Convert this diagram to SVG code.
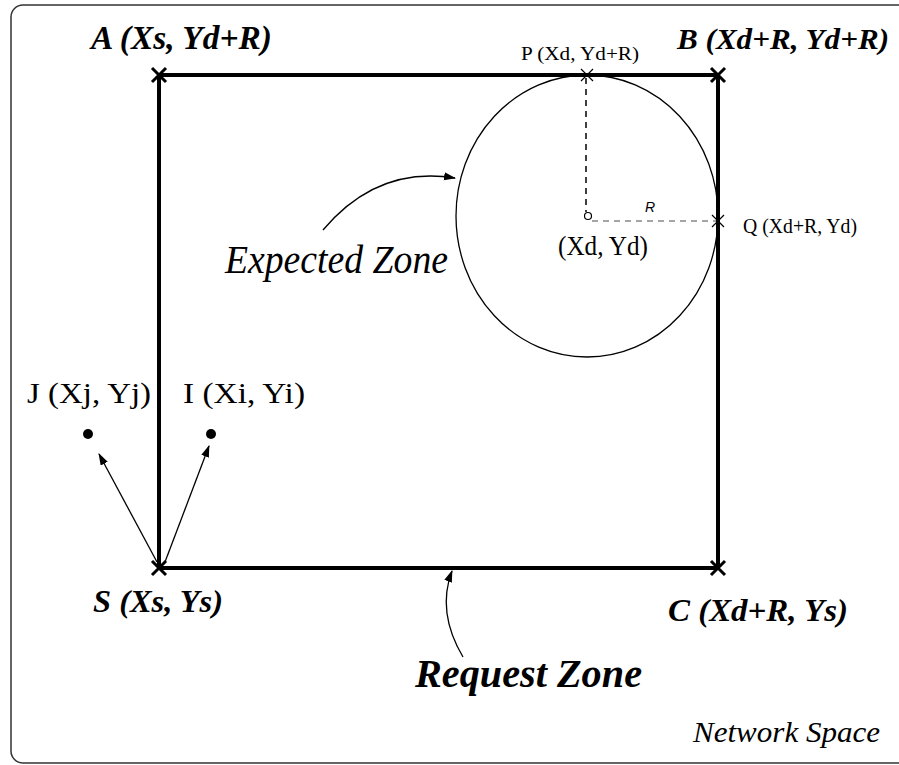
<svg xmlns="http://www.w3.org/2000/svg" width="899" height="765" viewBox="0 0 899 765">
<style>
.bi{font-family:"Liberation Serif",serif;font-weight:bold;font-style:italic;fill:#000}
.rg{font-family:"Liberation Serif",serif;fill:#000}
.it{font-family:"Liberation Serif",serif;font-style:italic;fill:#000}
.edge{stroke:#000;stroke-width:4;fill:none}
.bx{stroke:#000;stroke-width:3;fill:none}
.sx{stroke:#000;stroke-width:1.2;fill:none}
.thin{stroke:#000;stroke-width:1.3;fill:none}
</style>
<defs>
<marker id="ah" markerUnits="userSpaceOnUse" markerWidth="12" markerHeight="10" refX="11" refY="4" orient="auto">
<path d="M0,0 L12,4 L0,8 Z" fill="#000"/>
</marker>
</defs>
<rect x="11" y="5" width="910" height="758" rx="12" fill="#fff" stroke="#333" stroke-width="1.5"/>
<g id="request-zone">
<rect class="edge" x="159" y="75" width="559" height="493"/>
<text class="bi" x="415" y="687" font-size="41" textLength="227" lengthAdjust="spacingAndGlyphs">Request Zone</text>
</g>
<g id="expected-zone">
<ellipse cx="587" cy="216" rx="131" ry="141" fill="none" stroke="#000" stroke-width="1.3"/>
<line x1="586" y1="78" x2="586" y2="212" stroke="#000" stroke-width="1.5" stroke-dasharray="6,5"/>
<line x1="592" y1="221" x2="716" y2="221" stroke="#888" stroke-width="1.3" stroke-dasharray="6,5"/>
<circle cx="588" cy="216" r="3.5" fill="#fff" stroke="#000" stroke-width="1.2"/>
<text class="rg" x="558" y="255" font-size="27" textLength="90" lengthAdjust="spacingAndGlyphs">(Xd, Yd)</text>
<text x="645" y="212" font-family="Liberation Sans, sans-serif" font-style="italic" font-size="14">R</text>
<text class="it" x="225" y="273" font-size="39" textLength="223" lengthAdjust="spacingAndGlyphs">Expected Zone</text>
</g>
<g id="node-A">
<path class="bx" d="M152,68 L166,82 M166,68 L152,82"/>
<text class="bi" x="91" y="49" font-size="33" textLength="181" lengthAdjust="spacingAndGlyphs">A (Xs, Yd+R)</text>
</g>
<g id="node-B">
<path class="bx" d="M711,68 L725,82 M725,68 L711,82"/>
<text class="bi" x="677" y="49" font-size="30" textLength="212" lengthAdjust="spacingAndGlyphs">B (Xd+R, Yd+R)</text>
</g>
<g id="node-C">
<path class="bx" d="M711,561 L725,575 M725,561 L711,575"/>
<text class="bi" x="668" y="621" font-size="31" textLength="180" lengthAdjust="spacingAndGlyphs">C (Xd+R, Ys)</text>
</g>
<g id="node-S">
<path class="bx" d="M152,561 L166,575 M166,561 L152,575"/>
<text class="bi" x="93" y="612" font-size="31" textLength="130" lengthAdjust="spacingAndGlyphs">S (Xs, Ys)</text>
</g>
<g id="node-P">
<path class="sx" d="M581,69 L593,81 M593,69 L581,81"/>
<text class="rg" x="521" y="60" font-size="19" textLength="118" lengthAdjust="spacingAndGlyphs">P (Xd, Yd+R)</text>
</g>
<g id="node-Q">
<path class="sx" d="M712,215 L724,227 M724,215 L712,227"/>
<text class="rg" x="743" y="233" font-size="20" textLength="114" lengthAdjust="spacingAndGlyphs">Q (Xd+R, Yd)</text>
</g>
<g id="node-J">
<circle cx="88" cy="434" r="5" fill="#000"/>
<text class="rg" x="27" y="403" font-size="30" textLength="124" lengthAdjust="spacingAndGlyphs">J (Xj, Yj)</text>
</g>
<g id="node-I">
<circle cx="211" cy="434" r="5" fill="#000"/>
<text class="rg" x="183" y="403" font-size="30" textLength="122" lengthAdjust="spacingAndGlyphs">I (Xi, Yi)</text>
</g>
<g id="network-space">
<text class="it" x="693" y="742" font-size="29" textLength="187" lengthAdjust="spacingAndGlyphs">Network Space</text>
</g>
<g id="connectors">
<line class="thin" x1="157" y1="562" x2="99" y2="454" marker-end="url(#ah)"/>
<line class="thin" x1="165" y1="562" x2="209" y2="446" marker-end="url(#ah)"/>
<path class="thin" d="M323,230 C360,186 405,170 455,178" marker-end="url(#ah)"/>
<path class="thin" d="M463,657 C447,630 441,600 452,571" marker-end="url(#ah)"/>
</g>
</svg>
